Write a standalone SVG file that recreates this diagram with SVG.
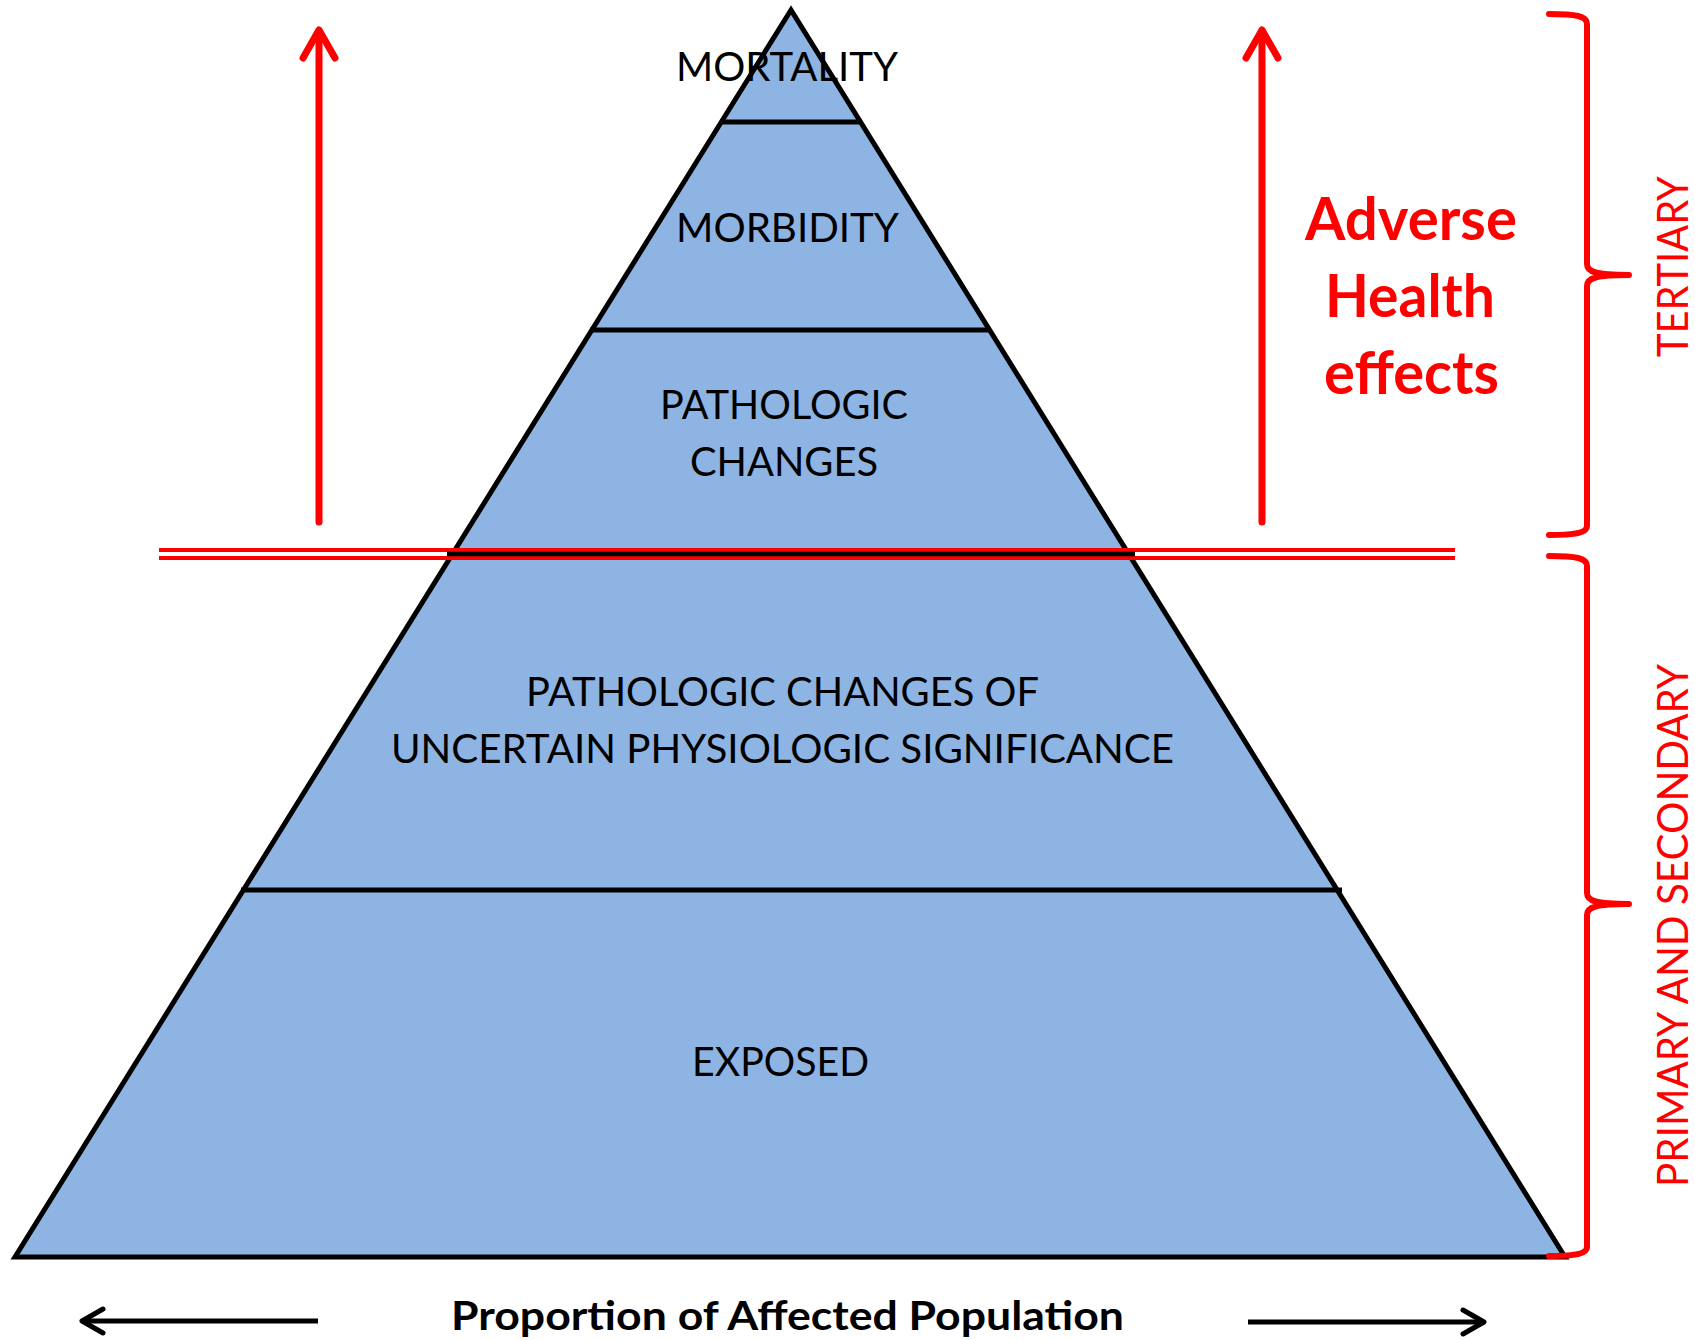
<svg xmlns="http://www.w3.org/2000/svg" width="1695" height="1340" viewBox="0 0 1695 1340">
  <style>
    .tier { fill: #000; font-family: Lato, "Open Sans", "Liberation Sans", sans-serif; font-size: 40px; }
    .edge { stroke: #000; stroke-width: 5; fill: none; }
    .red-stroke { stroke: #FF0000; fill: none; stroke-linecap: round; stroke-linejoin: round; }
    .red-label { fill: #FF0000; font-family: Lato, "Open Sans", "Liberation Sans", sans-serif; }
    .axis { stroke: #000; stroke-width: 5; fill: none; stroke-linejoin: round; }
  </style>

  <rect width="1695" height="1340" fill="#fff"/>

  <!-- Pyramid body -->
  <g id="pyramid">
    <polygon points="791,10 15,1257 1565,1257" fill="#8EB4E3" stroke="#000" stroke-width="5" stroke-linejoin="miter"/>
    <line class="edge" x1="720" y1="122" x2="862" y2="122"/>
    <line class="edge" x1="590" y1="330" x2="991" y2="330"/>
    <line class="edge" x1="241" y1="890" x2="1342" y2="890"/>
  </g>

  <!-- Threshold between tertiary and primary/secondary prevention -->
  <g id="threshold">
    <line x1="159" y1="550" x2="1455" y2="550" stroke="#FF0000" stroke-width="4"/>
    <line x1="159" y1="558" x2="1455" y2="558" stroke="#FF0000" stroke-width="4"/>
    <line x1="447" y1="554" x2="1135" y2="554" stroke="#000" stroke-width="4.5"/>
  </g>

  <!-- Tier labels -->
  <g id="tier-mortality">
    <text class="tier" x="676" y="81" textLength="222" lengthAdjust="spacingAndGlyphs">MORTALITY</text>
  </g>
  <g id="tier-morbidity">
    <text class="tier" x="676" y="242" textLength="223" lengthAdjust="spacingAndGlyphs">MORBIDITY</text>
  </g>
  <g id="tier-pathologic">
    <text class="tier" x="660" y="419" textLength="248" lengthAdjust="spacingAndGlyphs">PATHOLOGIC</text>
    <text class="tier" x="690" y="476" textLength="188" lengthAdjust="spacingAndGlyphs">CHANGES</text>
  </g>
  <g id="tier-uncertain">
    <text class="tier" x="526" y="706" textLength="513" lengthAdjust="spacingAndGlyphs">PATHOLOGIC CHANGES OF</text>
    <text class="tier" x="391" y="763" textLength="783" lengthAdjust="spacingAndGlyphs">UNCERTAIN PHYSIOLOGIC SIGNIFICANCE</text>
  </g>
  <g id="tier-exposed">
    <text class="tier" x="692" y="1076" textLength="177" lengthAdjust="spacingAndGlyphs">EXPOSED</text>
  </g>

  <!-- Adverse health effects callout -->
  <g id="adverse-label">
    <text class="red-label" font-size="60" font-weight="bold" x="1305" y="240" textLength="212" lengthAdjust="spacingAndGlyphs">Adverse</text>
    <text class="red-label" font-size="60" font-weight="bold" x="1325" y="317" textLength="170" lengthAdjust="spacingAndGlyphs">Health</text>
    <text class="red-label" font-size="60" font-weight="bold" x="1324" y="394" textLength="175" lengthAdjust="spacingAndGlyphs">effects</text>
  </g>

  <!-- Prevention level braces -->
  <g id="brace-tertiary">
    <path class="red-stroke" stroke-width="6" d="M1549,14 C1576,14 1587,16 1587,24 L1587,264 C1587,272 1596,275 1629,275 M1629,275 C1596,275 1587,278 1587,286 L1587,526 C1587,533 1576,535 1549,535"/>
    <text class="red-label" font-size="43" transform="translate(1688,357) rotate(-90)" x="0" y="0" textLength="181" lengthAdjust="spacingAndGlyphs">TERTIARY</text>
  </g>
  <g id="brace-primary-secondary">
    <path class="red-stroke" stroke-width="6" d="M1549,556 C1576,556 1587,558 1587,566 L1587,893 C1587,901 1596,904 1629,904 M1629,904 C1596,904 1587,907 1587,915 L1587,1247 C1587,1254 1576,1256 1549,1256"/>
    <text class="red-label" font-size="43" transform="translate(1688,1187) rotate(-90)" x="0" y="0" textLength="523" lengthAdjust="spacingAndGlyphs">PRIMARY AND SECONDARY</text>
  </g>

  <!-- Arrows -->
  <g id="connectors">
    <line class="red-stroke" stroke-width="7" stroke-linecap="butt" x1="319" y1="522" x2="319" y2="32"/>
    <polyline class="red-stroke" stroke-width="7" points="303,58 319,30 335,58"/>
    <line class="red-stroke" stroke-width="7" stroke-linecap="butt" x1="1262" y1="522" x2="1262" y2="32"/>
    <polyline class="red-stroke" stroke-width="7" points="1246,58 1262,30 1278,58"/>

    <line class="axis" x1="318" y1="1321" x2="84" y2="1321"/>
    <polyline class="axis" stroke-linecap="round" points="103,1309 82,1321 103,1333"/>
    <line class="axis" x1="1248" y1="1322" x2="1482" y2="1322"/>
    <polyline class="axis" stroke-linecap="round" points="1463,1310 1484,1322 1463,1334"/>
  </g>

  <g id="axis-label">
    <text x="451" y="1330" fill="#000" font-family="Lato, 'Open Sans', 'Liberation Sans', sans-serif" font-size="40" font-weight="bold" textLength="673" lengthAdjust="spacingAndGlyphs">Proportion of Affected Population</text>
  </g>
</svg>
